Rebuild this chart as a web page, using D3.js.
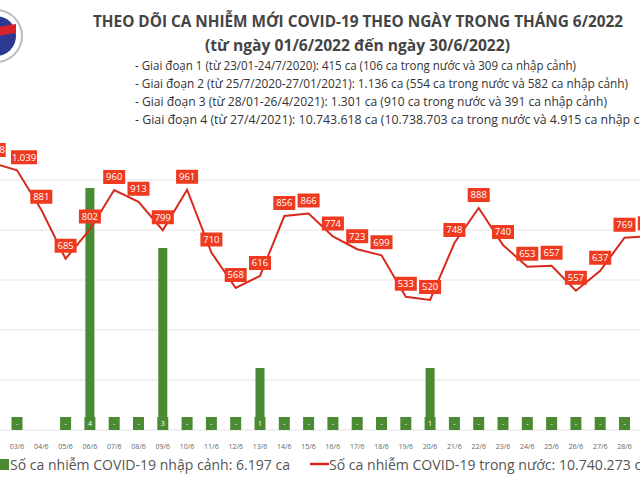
<!DOCTYPE html>
<html><head><meta charset="utf-8">
<script src="https://cdn.jsdelivr.net/npm/d3@7"></script>
<style>body{margin:0;background:#fff}svg{display:block}</style>
</head><body>
<svg id="c" width="640" height="480"></svg>
<script>
const allDays = d3.range(1,31).map(d=>String(d).padStart(2,'0')+'/6');
const days = ['02/6','03/6','04/6','05/6','06/6','07/6','08/6','09/6','10/6','11/6','12/6','13/6','14/6','15/6','16/6','17/6','18/6','19/6','20/6','21/6','22/6','23/6','24/6','25/6','26/6','27/6','28/6','29/6'];
const domestic = [1068,1039,881,685,802,960,913,799,961,710,568,616,856,866,774,723,699,533,520,748,888,740,653,657,557,637,769,775];
const imported = [0,0,null,0,4,0,0,3,0,0,0,1,0,0,0,0,0,0,1,0,0,0,0,0,0,0,0,0];
const title = 'THEO DÕI CA NHIỄM MỚI COVID-19 THEO NGÀY TRONG THÁNG 6/2022';
const subtitle = '(từ ngày 01/6/2022 đến ngày 30/6/2022)';
const notes = ['- Giai đoạn 1 (từ 23/01-24/7/2020): 415 ca (106 ca trong nước và 309 ca nhập cảnh)',
'- Giai đoạn 2 (từ 25/7/2020-27/01/2021): 1.136 ca (554 ca trong nước và 582 ca nhập cảnh)',
'- Giai đoạn 3 (từ 28/01-26/4/2021): 1.301 ca (910 ca trong nước và 391 ca nhập cảnh)',
'- Giai đoạn 4 (từ 27/4/2021): 10.743.618 ca (10.738.703 ca trong nước và 4.915 ca nhập cảnh)'];
const legendBar = 'Số ca nhiễm COVID-19 nhập cảnh: 6.197 ca';
const legendLine = 'Số ca nhiễm COVID-19 trong nước: 10.740.273 ca';
const gridVals = [0,200,400,600,800,1000];

const svg = d3.select('#c');
const F = '"Open Sans", "Noto Sans", sans-serif';
const x = d3.scalePoint().domain(allDays).range([17-2*24.3, 17+27*24.3]);
const y = d3.scaleLinear().domain([0,1000]).range([430,180]);
const yb = d3.scaleLinear().domain([0,4]).range([428,188]);
const fmt = v => v>=1000 ? d3.format(',')(v).replace(',','.') : String(v);

// logo
svg.append('circle').attr('cx',-4).attr('cy',36).attr('r',26).attr('fill','#fff').attr('stroke','#bbb').attr('stroke-width',2);
svg.append('circle').attr('cx',-4).attr('cy',36).attr('r',20).attr('fill','#2b3a8f');
svg.append('path').attr('d','M-24,30 L16,24 L16,33 L-24,39Z').attr('fill','#d8232a');

// grid
svg.append('g').selectAll('line').data(gridVals).join('line')
  .attr('x1',0).attr('x2',640).attr('y1',d=>y(d)).attr('y2',d=>y(d))
  .attr('stroke','#e3e3e3').attr('stroke-width',1);

// bars
const bw=9;
const bd = days.map((d,i)=>({d,v:imported[i]})).filter(o=>o.v!==null);
svg.append('g').selectAll('rect').data(bd.filter(o=>o.v>0)).join('rect')
  .attr('x',o=>x(o.d)-bw/2).attr('width',bw).attr('y',o=>yb(o.v)).attr('height',o=>yb(0)-yb(o.v)).attr('fill','#4a8a32');
const bl = svg.append('g').selectAll('g').data(bd).join('g').attr('transform',o=>`translate(${x(o.d)},424)`);
bl.append('rect').attr('x',-5.5).attr('y',-7).attr('width',11).attr('height',13).attr('fill','#4a8a32');
bl.append('text').attr('text-anchor','middle').attr('dy','0.35em').attr('y',-0.5).attr('font-family',F).attr('font-size',7).attr('fill','#fff').text(o=>o.v>0?o.v:'-');

// x labels
svg.append('g').selectAll('text').data(days).join('text').attr('x',d=>x(d)).attr('y',449)
  .attr('text-anchor','middle').attr('font-family',F).attr('font-size',7).attr('fill','#666').text(d=>d);

// line
const pts = days.map((d,i)=>[x(d),y(domestic[i])]);
svg.append('path').attr('d',d3.line()(pts)).attr('fill','none').attr('stroke','#d62a1e').attr('stroke-width',2);
const ll = svg.append('g').selectAll('g').data(days.map((d,i)=>({d,v:domestic[i]}))).join('g')
  .attr('transform',o=>`translate(${x(o.d)+ (o.d==='03/6'?7:0)},${y(o.v)-13})`);
ll.append('rect').attr('x',o=>o.v>=1000?-13:-11).attr('y',-7).attr('width',o=>o.v>=1000?26:22).attr('height',14).attr('fill','#ee3a1f');
ll.append('text').attr('text-anchor','middle').attr('dy','0.35em').attr('font-family',F).attr('font-size',9.5).attr('fill','#fff').text(o=>fmt(o.v));

// titles
svg.append('text').attr('x',93).attr('y',27).attr('font-family',F).attr('font-weight','bold').attr('font-size',16).attr('fill','#444').attr('textLength',530).attr('lengthAdjust','spacingAndGlyphs').text(title);
svg.append('text').attr('x',205).attr('y',51).attr('font-family',F).attr('font-weight','bold').attr('font-size',16).attr('fill','#444').attr('textLength',305).attr('lengthAdjust','spacingAndGlyphs').text(subtitle);
const nlen=[441,493,472,530];
svg.append('g').selectAll('text').data(notes).join('text').attr('x',135).attr('y',(d,i)=>70+i*18)
  .attr('font-family',F).attr('font-size',12.5).attr('fill','#333').attr('textLength',(d,i)=>nlen[i]).attr('lengthAdjust','spacingAndGlyphs').text(d=>d);

// legend
svg.append('rect').attr('x',0).attr('y',459).attr('width',9).attr('height',11).attr('fill','#4a8a32');
svg.append('text').attr('x',10).attr('y',470).attr('font-family',F).attr('font-size',14).attr('fill','#555').attr('textLength',280).attr('lengthAdjust','spacingAndGlyphs').text(legendBar);
svg.append('line').attr('x1',310).attr('x2',329).attr('y1',464).attr('y2',464).attr('stroke','#d62a1e').attr('stroke-width',2.5);
svg.append('text').attr('x',329).attr('y',470).attr('font-family',F).attr('font-size',14).attr('fill','#555').attr('textLength',320).attr('lengthAdjust','spacingAndGlyphs').text(legendLine);
</script></body></html>
